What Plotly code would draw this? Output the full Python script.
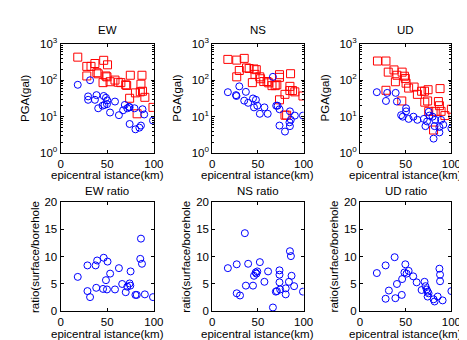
import plotly.graph_objects as go
from plotly.subplots import make_subplots

# ---------------- data ----------------
ew_surf_x = [18.4, 28.1, 32.6, 36.8, 46.2, 50.3, 28.1, 38.9, 40.3, 48.6, 49.7, 45.5, 53.0, 58.3,
             61.8, 64.6, 69.8, 70.8, 74.7, 74.0, 80.2, 82.0, 85.4, 86.1, 87.2, 87.8, 90.3, 99.0]
ew_surf_y = [430, 240, 240, 288, 352, 265, 131, 161, 150, 131, 124, 86, 91, 101,
             88, 86, 75, 72, 137, 32, 45, 12, 48, 78, 137, 50, 34, 18]
ew_bore_x = [18.4, 31.6, 29.5, 29.5, 36.8, 38.5, 40.3, 46.2, 48.6, 50.0, 45.0, 47.0, 49.7, 53.0,
             58.3, 62.5, 67.0, 68.8, 71.5, 73.5, 74.0, 74.0, 79.2, 80.2, 84.4, 86.1, 87.8, 89.6, 99.0]
ew_bore_y = [75, 100, 36, 29, 29, 39, 17, 37, 33, 28, 20, 21, 22, 13,
             26, 11, 15, 21, 17, 18.6, 18, 6.3, 17, 4.5, 5, 5.7, 16, 11.5, 7.8]

ns_surf_x = [17.1, 26.8, 35.0, 26.8, 29.6, 37.5, 40.4, 45.7, 48.2, 46.8, 43.9, 52.0, 52.9, 56.4,
             60.0, 61.8, 65.4, 68.9, 70.7, 73.6, 73.6, 73.6, 79.6, 79.6, 81.4, 85.7, 85.0, 85.0,
             87.9, 90.4, 99.3]
ns_surf_y = [373, 357, 398, 124, 185, 218, 210, 204, 195, 145, 86, 124, 110, 92,
             92, 85, 71, 71, 75, 142, 120, 29, 41, 11, 11, 151, 68, 52, 52, 48, 37]
ns_bore_x = [17.1, 26.0, 26.5, 29.6, 36.8, 35.0, 39.3, 44.6, 47.8, 45.7, 49.3, 52.1, 57.1, 60.7,
             66.4, 70.0, 71.5, 73.6, 73.6, 79.6, 85.0, 86.0, 85.0, 84.5, 90.4, 99.3]
ns_bore_y = [47, 39, 37, 68, 48, 27.5, 24, 31.6, 29, 18, 20, 12, 18, 12,
             124, 20, 20, 16, 5.7, 3.9, 14, 8.2, 5.5, 7.0, 10.7, 10.7]

ud_surf_x = [19.1, 28.4, 30.9, 37.2, 38.7, 40.4, 46.1, 48.6, 49.6, 50.4, 53.2, 59.2, 62.8, 67.4,
             70.6, 74.5, 70.9, 74.0, 75.2, 80.5, 82.3, 85.8, 87.6, 86.9, 88.7, 92.9, 100.0, 28.4, 45.7]
ud_surf_y = [337, 337, 167, 192, 91, 137, 167, 129, 112, 83, 61, 65, 41, 50,
             50, 55, 25, 27, 14, 4.3, 14, 26, 59, 20, 14, 10.7, 16, 53, 27]
ud_bore_x = [18.4, 28.4, 29.8, 39.0, 40.4, 45.0, 46.8, 50.4, 50.4, 53.2, 58.5, 62.8, 69.9, 71.6,
             73.4, 75.2, 75.9, 79.4, 82.3, 81.6, 86.9, 86.9, 80.5, 88.7, 91.1, 100.0]
ud_bore_y = [47, 27, 45, 45, 26, 11, 10, 17, 14, 8.7, 10, 8.2, 8.7, 5.5,
             7.4, 13.6, 10.7, 10, 8.2, 5.5, 5.2, 3.7, 2.5, 8.2, 6, 4.8]

ew_ratio_x = [18.4, 28.8, 28.8, 31.6, 37.5, 39.2, 38.2, 46.2, 50.3, 45.5, 49.7, 48.6, 53.1, 58.3,
              62.5, 66.0, 69.8, 71.5, 74.0, 74.7, 75.0, 80.2, 81.6, 85.4, 86.1, 87.2, 90.3, 99.0]
ew_ratio_y = [6.3, 8.4, 3.7, 2.6, 8.4, 9.3, 4.3, 9.8, 9.1, 4.1, 4.0, 5.7, 6.9, 4.0,
              7.9, 5.0, 3.5, 4.5, 5.1, 4.7, 7.3, 3.0, 3.0, 9.6, 13.3, 8.7, 3.1, 2.6]
ns_ratio_x = [17.1, 26.8, 26.8, 30.4, 35.7, 36.8, 39.3, 44.6, 45.7, 47.5, 49.3, 48.4, 52.1, 57.1,
              61.1, 66.4, 69.6, 70.7, 73.6, 73.6, 73.6, 74.3, 80.4, 80.4, 83.9, 85.0, 86.1, 86.8,
              89.6, 99.3]
ns_ratio_y = [7.9, 8.6, 3.3, 2.9, 14.3, 4.7, 8.7, 4.7, 6.5, 7.1, 7.3, 6.9, 9.0, 5.4,
              7.3, 0.7, 3.6, 3.7, 7.5, 6.7, 5.3, 4.0, 4.2, 3.1, 5.4, 11.0, 10.1, 6.5, 4.6, 3.6]
ud_ratio_x = [18.4, 28.0, 28.0, 31.6, 37.9, 38.7, 40.4, 46.1, 45.7, 48.6, 49.6, 51.0, 53.2, 58.2,
              62.0, 67.4, 70.6, 71.6, 73.0, 74.0, 75.0, 74.0, 80.5, 81.6, 85.0, 86.9, 87.6, 87.6,
              90.4, 100.0]
ud_ratio_y = [7.0, 8.4, 2.3, 3.8, 9.9, 2.4, 5.0, 5.9, 3.0, 7.1, 8.6, 6.9, 7.4, 6.4,
              5.3, 3.9, 5.4, 4.6, 4.0, 3.6, 3.3, 2.7, 2.2, 1.8, 2.7, 7.8, 6.7, 5.5, 2.0, 3.7]

top_titles = ["EW", "NS", "UD"]
bottom_titles = ["EW ratio", "NS ratio", "UD ratio"]
x_label = "epicentral istance(km)"
top_y_label = "PGA(gal)"
bottom_y_label = "ratio(surface/borehole"
x_ticks = [0, 50, 100]
log_ticks = [1, 10, 100, 1000]
log_tick_text = ["10<sup>0</sup>", "10<sup>1</sup>", "10<sup>2</sup>", "10<sup>3</sup>"]
ratio_ticks = [0, 5, 10, 15, 20]

# ---------------- figure ----------------
RED = "#ff0000"
BLUE = "#0000ff"
FONT = "Liberation Sans, Arial, sans-serif"
FS = 11.5

fig = make_subplots(rows=2, cols=3)

surf = [(ew_surf_x, ew_surf_y), (ns_surf_x, ns_surf_y), (ud_surf_x, ud_surf_y)]
bore = [(ew_bore_x, ew_bore_y), (ns_bore_x, ns_bore_y), (ud_bore_x, ud_bore_y)]
ratio = [(ew_ratio_x, ew_ratio_y), (ns_ratio_x, ns_ratio_y), (ud_ratio_x, ud_ratio_y)]

for c in range(3):
    fig.add_trace(go.Scatter(x=surf[c][0], y=surf[c][1], mode="markers",
                             marker=dict(symbol="square-open", size=8, color=RED,
                                         line=dict(width=1, color=RED))),
                  row=1, col=c + 1)
    fig.add_trace(go.Scatter(x=bore[c][0], y=bore[c][1], mode="markers",
                             marker=dict(symbol="circle-open", size=7, color=BLUE,
                                         line=dict(width=1, color=BLUE))),
                  row=1, col=c + 1)
    fig.add_trace(go.Scatter(x=ratio[c][0], y=ratio[c][1], mode="markers",
                             marker=dict(symbol="circle-open", size=7, color=BLUE,
                                         line=dict(width=1, color=BLUE))),
                  row=2, col=c + 1)

W, H = 467, 340
col_px = [(51, 147), (207, 301), (359, 453)]
row_px = [(29, 143), (194, 308)]

def xd(a, b):
    return [a / W, b / W]

def yd(t, b):
    return [1 - b / H, 1 - t / H]

common = dict(showline=True, linecolor="black", linewidth=1, mirror="ticks",
              ticks="inside", ticklen=3, tickcolor="black", showgrid=False,
              zeroline=False, tickfont=dict(size=FS, color="black", family=FONT))

annotations = []
for r in range(2):
    for c in range(3):
        idx = r * 3 + c + 1
        xa = "xaxis" if idx == 1 else f"xaxis{idx}"
        ya = "yaxis" if idx == 1 else f"yaxis{idx}"
        fig.layout[xa].update(domain=xd(*col_px[c]), range=[0, 100],
                              tickvals=x_ticks, **common)
        if r == 0:
            fig.layout[ya].update(domain=yd(*row_px[r]), type="log", range=[0, 3],
                                  tickvals=log_ticks, ticktext=log_tick_text,
                                  minor=dict(ticks="inside", ticklen=2, tickcolor="black",
                                             dtick="D1", showgrid=False),
                                  **common)
        else:
            fig.layout[ya].update(domain=yd(*row_px[r]), range=[0, 20],
                                  tickvals=ratio_ticks, **common)
        x0, x1 = col_px[c]
        y0, y1 = row_px[r]
        cx = (x0 + x1) / 2
        title = top_titles[c] if r == 0 else bottom_titles[c]
        t_off = 14 if r == 0 else 12
        annotations.append(dict(text=title, x=cx / W, y=1 - (y0 - t_off) / H,
                                xref="paper", yref="paper", showarrow=False,
                                xanchor="center", yanchor="middle",
                                font=dict(size=FS, family=FONT, color="black")))
        xl_off = 23 if r == 0 else 24
        annotations.append(dict(text=x_label, x=cx / W, y=1 - (y1 + xl_off) / H,
                                xref="paper", yref="paper", showarrow=False,
                                xanchor="center", yanchor="middle",
                                font=dict(size=FS, family=FONT, color="black")))
        ylab = top_y_label if r == 0 else bottom_y_label
        off = 36 if r == 0 else 27
        annotations.append(dict(text=ylab, x=(x0 - off) / W, y=1 - ((y0 + y1) / 2) / H,
                                xref="paper", yref="paper", showarrow=False,
                                xanchor="center", yanchor="middle", textangle=-90,
                                font=dict(size=FS, family=FONT, color="black")))

fig.update_layout(width=W, height=H, margin=dict(l=0, r=0, t=0, b=0),
                  paper_bgcolor="white", plot_bgcolor="white", showlegend=False,
                  font=dict(family=FONT, size=FS, color="black"),
                  annotations=annotations)

fig.write_html("out.html")
